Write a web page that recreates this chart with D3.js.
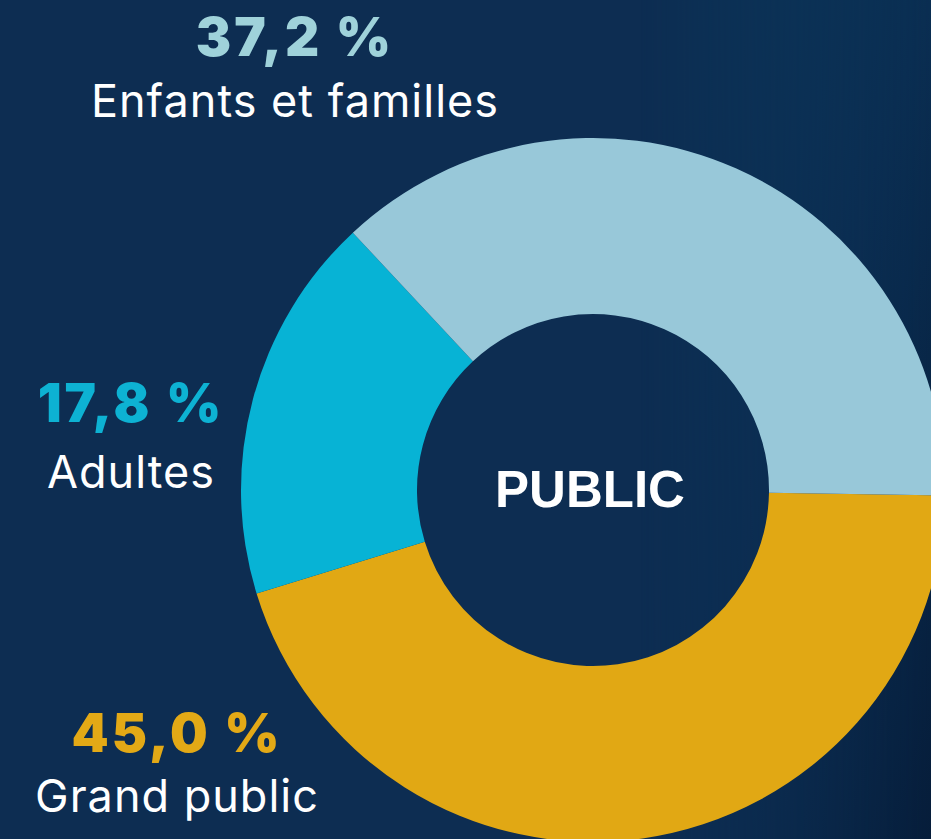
<!DOCTYPE html>
<html>
<head>
<meta charset="utf-8">
<script src="https://cdn.jsdelivr.net/npm/d3@7"></script>
<style>
  html, body { margin: 0; padding: 0; background: #0d2d52; overflow: hidden; }
  svg { display: block; }
</style>
</head>
<body>
<svg id="chart"></svg>
<script>
// data
const categories = ['Grand public', 'Adultes', 'Enfants et familles'];
const values = [45.0, 17.8, 37.2];
const valueLabels = ['45,0 %', '17,8 %', '37,2 %'];
const colors = ['#e1a814', '#07b3d5', '#98c8d9'];
const labelColors = ['#e3a916', '#0db2d3', '#9fd2da'];
const centerLabel = 'PUBLIC';

const width = 931, height = 839;
const cx = 593, cy = 490;
const outerR = 352, innerR = 176;

const svg = d3.select('#chart')
    .attr('width', width)
    .attr('height', height);

// background with the darker / tealish shading on the right
const defs = svg.append('defs');
const grad = defs.append('linearGradient')
    .attr('id', 'bgRight')
    .attr('x1', 0).attr('y1', 0).attr('x2', 1).attr('y2', 1);
grad.append('stop').attr('offset', '0%').attr('stop-color', '#0a3d60');
grad.append('stop').attr('offset', '50%').attr('stop-color', '#0a2e52');
grad.append('stop').attr('offset', '100%').attr('stop-color', '#061d3a');

const fade = defs.append('linearGradient')
    .attr('id', 'fadeX')
    .attr('x1', 0).attr('y1', 0).attr('x2', 1).attr('y2', 0);
fade.append('stop').attr('offset', '0%').attr('stop-color', 'white').attr('stop-opacity', 0);
fade.append('stop').attr('offset', '100%').attr('stop-color', 'white').attr('stop-opacity', 1);
defs.append('mask').attr('id', 'fadeMask')
    .append('rect')
    .attr('x', 640).attr('y', 0).attr('width', width - 640).attr('height', height)
    .attr('fill', 'url(#fadeX)');

svg.append('rect')
    .attr('width', width).attr('height', height)
    .attr('fill', '#0d2d52');
svg.append('rect')
    .attr('x', 640).attr('y', 0).attr('width', width - 640).attr('height', height)
    .attr('fill', 'url(#bgRight)')
    .attr('mask', 'url(#fadeMask)');

// donut
const pie = d3.pie()
    .sort(null)
    .value(d => d)
    .startAngle(Math.PI * 0.505)
    .endAngle(Math.PI * 2.505);

const arc = d3.arc()
    .innerRadius(innerR)
    .outerRadius(outerR);

const g = svg.append('g')
    .attr('transform', `translate(${cx},${cy})`);

g.selectAll('path')
    .data(pie(values))
    .enter().append('path')
    .attr('d', arc)
    .attr('fill', (d, i) => colors[i]);

g.append('text')
    .attr('x', -3)
    .attr('y', 17)
    .attr('text-anchor', 'middle')
    .style('font-family', '"Liberation Sans", Arial, sans-serif')
    .style('font-weight', 700)
    .style('font-size', '51px')
    .style('fill', '#ffffff')
    .text(centerLabel);

// outside labels
const labelPos = [
    {x: 177, y1: 752, y2: 812},
    {x: 131, y1: 422, y2: 488},
    {x: 295, y1: 56, y2: 117}
];

const labels = svg.append('g');
categories.forEach((c, i) => {
    labels.append('text')
        .attr('x', labelPos[i].x)
        .attr('y', labelPos[i].y1)
        .attr('text-anchor', 'middle')
        .style('font-family', 'Inter, "Open Sans", sans-serif')
        .style('font-weight', 900)
        .style('font-size', '53px')
        .style('letter-spacing', '3px')
        .style('fill', labelColors[i])
        .text(valueLabels[i]);
    labels.append('text')
        .attr('x', labelPos[i].x)
        .attr('y', labelPos[i].y2)
        .attr('text-anchor', 'middle')
        .style('font-family', 'Inter, "Open Sans", sans-serif')
        .style('font-weight', 400)
        .style('font-size', '45px')
        .style('letter-spacing', '1px')
        .style('fill', '#ffffff')
        .text(c);
});
</script>
</body>
</html>
